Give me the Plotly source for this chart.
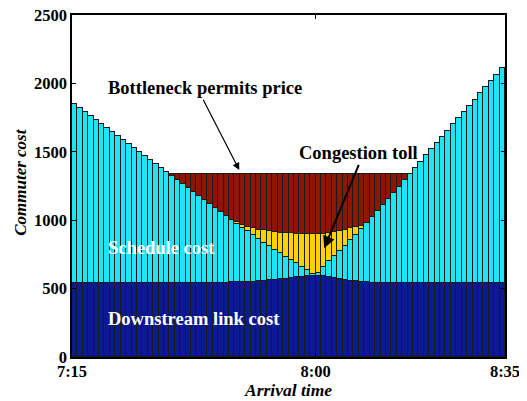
import plotly.graph_objects as go

# minutes after 7:15 (bar centres)
minutes = [i + 0.5 for i in range(80)]

downstream = [540]*25 + [541, 542, 543, 544, 545, 546, 547, 549, 551, 554, 557, 560, 564, 568,
              572, 577, 582, 587, 591, 594, 594, 591, 586, 579, 572, 565, 559, 553, 548, 545,
              543, 541] + [540]*23

schedule = [1313, 1283, 1254, 1224, 1195, 1165, 1136, 1106, 1077, 1047, 1018, 988, 959, 929,
            900, 870, 841, 811, 782, 752, 723, 693, 664, 634, 605, 575, 546, 516, 487, 457,
            428, 398, 369, 339, 310, 280, 251, 221, 192, 162, 133, 103, 74, 44, 15,
            23, 68, 114, 159, 205, 250, 296, 341, 387, 432, 478, 523, 569, 614, 660, 705,
            751, 796, 842, 887, 933, 978, 1024, 1069, 1115, 1160, 1206, 1251, 1297, 1342,
            1388, 1433, 1479, 1524, 1570]

toll = [0]*30 + [11, 21, 34, 51, 68, 88, 108, 129, 150, 173, 194, 216, 238, 263, 288,
                 281, 243, 208, 177, 146, 117, 86, 56, 25] + [0]*26

permits = [0]*18 + [18, 48, 77, 107, 136, 166, 195, 224, 252, 281, 309, 338,
                    355, 374, 388, 399, 408, 415, 421, 426, 430, 433, 436, 439, 441, 442, 443,
                    442, 438, 432, 425, 417, 408, 399, 390, 380, 363, 319, 276, 231, 186, 140,
                    95, 49, 4] + [0]*17

tick_vals = [0, 45, 80]
tick_text = ["7:15", "8:00", "8:35"]
y_ticks = [0, 500, 1000, 1500, 2000, 2500]

series = [
    ("Downstream link cost", downstream, "#0b1a93"),
    ("Schedule cost", schedule, "#1ee4f8"),
    ("Congestion toll", toll, "#ffd200"),
    ("Bottleneck permits price", permits, "#8e1600"),
]

fig = go.Figure()
for name, vals, col in series:
    fig.add_trace(go.Bar(
        x=minutes, y=vals, name=name, width=1.0,
        marker=dict(color=col, line=dict(color="#1a1a1a", width=1)),
        showlegend=False,
    ))

FONT = "Liberation Serif"
# page body has an 8px default margin, so the figure is sized/offset to compensate
fig.update_layout(
    barmode="stack", bargap=0,
    width=519, height=393,
    margin=dict(l=64, r=22, t=7, b=44),
    paper_bgcolor="white", plot_bgcolor="white",
    font=dict(family=FONT, size=16, color="black"),
)
fig.update_xaxes(
    range=[0, 80], tickvals=tick_vals, ticktext=tick_text,
    tickfont=dict(family=FONT, size=16.5, weight="bold"),
    ticks="inside", ticklen=4, tickcolor="black", ticklabelstandoff=-2,
    ticklabeloverflow="allow",
    showline=True, linecolor="black", linewidth=1.5, mirror="ticks",
    showgrid=False, zeroline=False, automargin=False,
)
fig.update_yaxes(
    range=[0, 2500], tickvals=y_ticks,
    tickfont=dict(family=FONT, size=16.5, weight="bold"),
    ticks="inside", ticklen=4, tickcolor="black",
    ticklabeloverflow="allow",
    showline=True, linecolor="black", linewidth=1.5, mirror="ticks",
    showgrid=False, zeroline=False, automargin=False,
)

title_font = dict(family=FONT, size=17.5, weight="bold", style="italic", color="black")
fig.add_annotation(xref="paper", yref="paper", x=0.499, y=-0.097, yanchor="middle",
                   text="Arrival time", showarrow=False, font=title_font)
fig.add_annotation(xref="paper", yref="paper", x=-0.118, xanchor="center", y=0.512,
                   text="Commuter cost", textangle=-90, showarrow=False,
                   font=dict(family=FONT, size=17, weight="bold", style="italic", color="black"))

bold = dict(family=FONT, size=18.5, weight="bold", color="black")
white = dict(family=FONT, size=18.5, weight="bold", color="white")
fig.add_annotation(x=24.5, y=1966, text="Bottleneck permits price", showarrow=False, font=bold)
fig.add_annotation(x=30.9, y=1367, ax=24.1, ay=1891, axref="x", ayref="y", text="",
                   showarrow=True, arrowhead=2, arrowsize=1.2, arrowwidth=1.2, arrowcolor="black")
fig.add_annotation(x=52.9, y=1491, text="Congestion toll", showarrow=False, font=bold)
fig.add_annotation(x=46.6, y=795, ax=53.1, ay=1416, axref="x", ayref="y", text="",
                   showarrow=True, arrowhead=2, arrowsize=1.2, arrowwidth=2, arrowcolor="black")
fig.add_annotation(x=16.6, y=795, text="Schedule cost", showarrow=False, font=white)
fig.add_annotation(x=22.6, y=276, text="Downstream link cost", showarrow=False, font=white)

fig.write_html("out.html")
